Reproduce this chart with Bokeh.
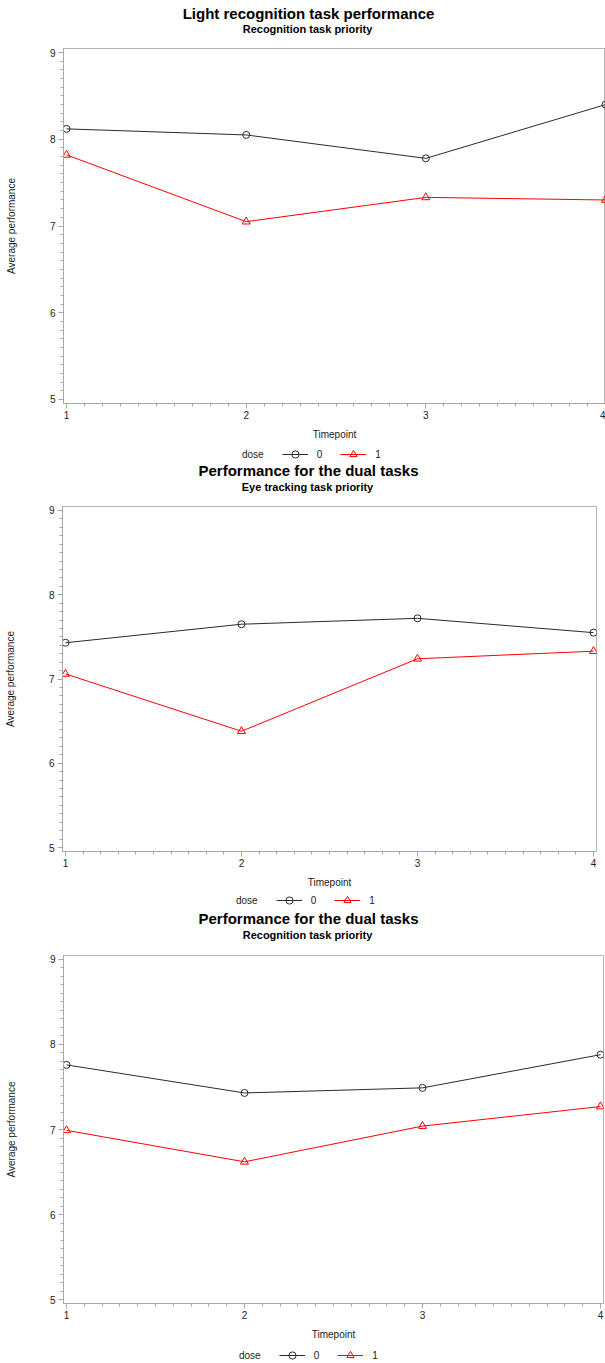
from bokeh.plotting import figure
from bokeh.models import Label, Legend, LegendItem, SingleIntervalTicker, Range1d
from bokeh.embed import file_html
from bokeh.resources import INLINE

# ---- data ----
timepoints = [1, 2, 3, 4]
titles = ["Light recognition task performance",
          "Performance for the dual tasks",
          "Performance for the dual tasks"]
subtitles = ["Recognition task priority",
             "Eye tracking task priority",
             "Recognition task priority"]
dose0_panel1 = [8.12, 8.05, 7.78, 8.40]
dose1_panel1 = [7.82, 7.05, 7.33, 7.30]
dose0_panel2 = [7.43, 7.65, 7.72, 7.55]
dose1_panel2 = [7.06, 6.38, 7.24, 7.33]
dose0_panel3 = [7.76, 7.43, 7.49, 7.88]
dose1_panel3 = [6.99, 6.62, 7.04, 7.27]
y_min, y_max = 5, 9
x_label = "Timepoint"
y_label = "Average performance"
legend_title = "dose"
dose_levels = ["0", "1"]

FONT = "Liberation Sans"
GREY = "#a8a8a8"
TXT = "#222222"
BLACK_LINE = "#2b2b2b"
RED = "#ff0000"
W = 605
NAN = float("nan")

# page layout per panel (pixels)
layouts = [
    dict(head_h=40, title_y=13, sub_y=28, main_h=402, top=8, bottom=39, left=63, right=0,
         x_end=4.0, leg_h=20, leg_x=207, leg_y=-1),
    dict(head_h=36, title_y=8, sub_y=24, main_h=392, top=8, bottom=38, left=62, right=9,
         x_end=4.017, leg_h=20, leg_x=201, leg_y=1),
    dict(head_h=36, title_y=8, sub_y=24, main_h=397, top=9, bottom=40, left=63, right=2,
         x_end=4.017, leg_h=20, leg_x=204, leg_y=-1),
]
series = [(dose0_panel1, dose1_panel1), (dose0_panel2, dose1_panel2), (dose0_panel3, dose1_panel3)]


def blank_fig(h):
    f = figure(width=W, height=h, output_backend="svg", toolbar_location=None,
               x_range=Range1d(0, W), y_range=Range1d(0, h),
               x_axis_type=None, y_axis_type=None, min_border=0,
               min_border_left=0, min_border_right=0, min_border_top=0, min_border_bottom=0)
    f.grid.visible = False
    f.outline_line_color = None
    f.background_fill_color = "white"
    f.border_fill_color = "white"
    return f


roots = []
for i, L in enumerate(layouts):
    # ---- header with title and subtitle ----
    hd = blank_fig(L["head_h"])
    hd.add_layout(Label(x=308, y=L["head_h"] - L["title_y"], text=titles[i],
                        text_align="center", text_baseline="middle", text_font=FONT,
                        text_font_size="15px", text_font_style="bold", text_color="black"))
    hd.add_layout(Label(x=307, y=L["head_h"] - L["sub_y"], text=subtitles[i],
                        text_align="center", text_baseline="middle", text_font=FONT,
                        text_font_size="11px", text_font_style="bold", text_color="black"))
    roots.append(hd)

    # ---- main chart ----
    pad_y = 0.047
    p = figure(width=W, height=L["main_h"], output_backend="svg", toolbar_location=None,
               x_range=Range1d(0.983, L["x_end"]), y_range=Range1d(y_min - pad_y, y_max + pad_y),
               min_border_top=L["top"], min_border_bottom=L["bottom"],
               min_border_left=L["left"], min_border_right=L["right"])
    p.grid.visible = False
    p.outline_line_color = "#b4b4b4"
    p.background_fill_color = "white"
    p.border_fill_color = "white"

    for ax in (p.xaxis, p.yaxis):
        ax.ticker = SingleIntervalTicker(interval=1, num_minor_ticks=10)
        ax.axis_line_color = GREY
        ax.major_tick_line_color = GREY
        ax.minor_tick_line_color = GREY
        ax.major_tick_out = 5
        ax.major_tick_in = 0
        ax.minor_tick_out = 3
        ax.minor_tick_in = 0
        ax.major_label_text_font = FONT
        ax.major_label_text_font_size = "10px"
        ax.major_label_text_color = TXT
        ax.axis_label_text_font = FONT
        ax.axis_label_text_font_size = "10px"
        ax.axis_label_text_font_style = "normal"
        ax.axis_label_text_color = TXT
    p.xaxis.axis_label = x_label
    p.xaxis.major_label_standoff = 2
    p.xaxis.axis_label_standoff = 7
    p.yaxis.axis_label = y_label
    p.yaxis.major_label_standoff = 3
    p.yaxis.axis_label_standoff = 30

    d0, d1 = series[i]
    p.line(timepoints, d0, line_color=BLACK_LINE, line_width=1)
    p.scatter(timepoints, d0, marker="circle", size=7, fill_color=None,
              line_color=BLACK_LINE, line_width=1)
    p.line(timepoints, d1, line_color=RED, line_width=1)
    p.scatter(timepoints, d1, marker="triangle", size=8, fill_color=None,
              line_color=RED, line_width=1)
    roots.append(p)

    # ---- legend strip (legend-only renderers hold no visible data) ----
    lg = blank_fig(L["leg_h"])
    dummy = lg.line([NAN], [NAN], line_alpha=0)
    l0 = lg.line([NAN], [NAN], line_color=BLACK_LINE, line_width=1)
    s0 = lg.scatter([NAN], [NAN], marker="circle", size=7, fill_color=None,
                    line_color=BLACK_LINE, line_width=1)
    l1 = lg.line([NAN], [NAN], line_color=RED, line_width=1)
    s1 = lg.scatter([NAN], [NAN], marker="triangle", size=8, fill_color=None,
                    line_color=RED, line_width=1)
    leg = Legend(items=[LegendItem(label=legend_title, renderers=[dummy]),
                        LegendItem(label=dose_levels[0], renderers=[l0, s0]),
                        LegendItem(label=dose_levels[1], renderers=[l1, s1])],
                 location=(L["leg_x"], L["leg_y"]), orientation="horizontal",
                 padding=0, margin=0, spacing=18, glyph_width=26, glyph_height=18,
                 label_height=18, label_width=0, label_standoff=9,
                 label_text_font=FONT, label_text_font_size="10px", label_text_color=TXT,
                 border_line_alpha=0, background_fill_alpha=0)
    lg.add_layout(leg)
    roots.append(lg)

open("out.html", "w").write(file_html(roots, INLINE))
